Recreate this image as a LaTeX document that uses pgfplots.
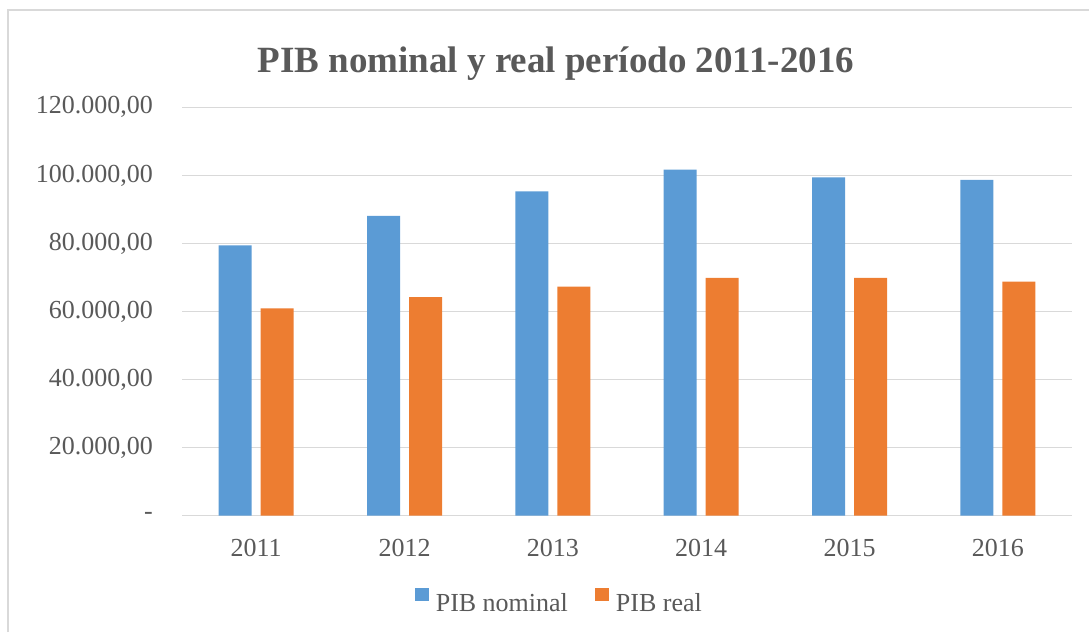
\documentclass[border=0pt]{standalone}
\usepackage{fontspec}
\setmainfont{Liberation Serif}
\usepackage{pgfplots}
\pgfplotsset{compat=1.18}
\definecolor{nomblue}{HTML}{5B9BD5}
\definecolor{realorange}{HTML}{ED7D31}
\definecolor{txtgray}{HTML}{595959}
\definecolor{gridgray}{HTML}{D9D9D9}

\begin{document}
\begin{tikzpicture}[x=1pt,y=1pt]
\useasboundingbox (0,0) rectangle (1089,632);
% chart frame (left and top edges visible)
\draw[gridgray, line width=2pt] (8,0) -- (8,622) -- (1089,622);
\node[anchor=base, font=\fontsize{37pt}{42pt}\selectfont\bfseries, text=txtgray]
  at (556,559) {PIB nominal y real período 2011-2016};

\begin{axis}[
    at={(182pt,116.3pt)}, anchor=south west,
    scale only axis,
    width=890pt, height=408.4pt,
    ybar=9pt, bar width=33pt,
    xmin=-0.5, xmax=5.5,
    ymin=0, ymax=120000,
    xtick={0,1,2,3,4,5},
    xticklabels={2011,2012,2013,2014,2015,2016},
    ytick={0,20000,40000,60000,80000,100000,120000},
    yticklabels={{-\hspace{15pt}},{20.000,00},{40.000,00},{60.000,00},{80.000,00},{100.000,00},{120.000,00}},
    scaled y ticks=false,
    /pgf/number format/assume math mode=true,
    major tick length=0pt,
    axis line style={draw=none},
    ymajorgrids=true,
    grid style={gridgray, line width=1.5pt},
    tick label style={font=\fontsize{26pt}{30pt}\selectfont, text=txtgray},
    yticklabel style={anchor=east, inner sep=0pt, xshift=-29pt},
    xticklabel style={anchor=north, inner sep=0pt, yshift=-23pt},
    legend style={at={(0.424,-0.211)}, anchor=center, draw=none,
        font=\fontsize{26pt}{30pt}\selectfont, text=txtgray,
        legend columns=2, inner sep=0pt,
        /tikz/every odd column/.append style={column sep=5pt},
        /tikz/every even column/.append style={column sep=25pt}},
    legend cell align=left,
    legend image code/.code={\fill[#1] (0pt,2pt) rectangle (14pt,15pt);},
]

\addplot[fill=nomblue, draw=none] coordinates {
    (0,79400) (1,88100) (2,95300) (3,101700) (4,99400) (5,98700)
};
\addplot[fill=realorange, draw=none] coordinates {
    (0,60900) (1,64200) (2,67300) (3,69900) (4,69900) (5,68800)
};

\legend{PIB nominal, PIB real}
\end{axis}
\end{tikzpicture}
\end{document}
